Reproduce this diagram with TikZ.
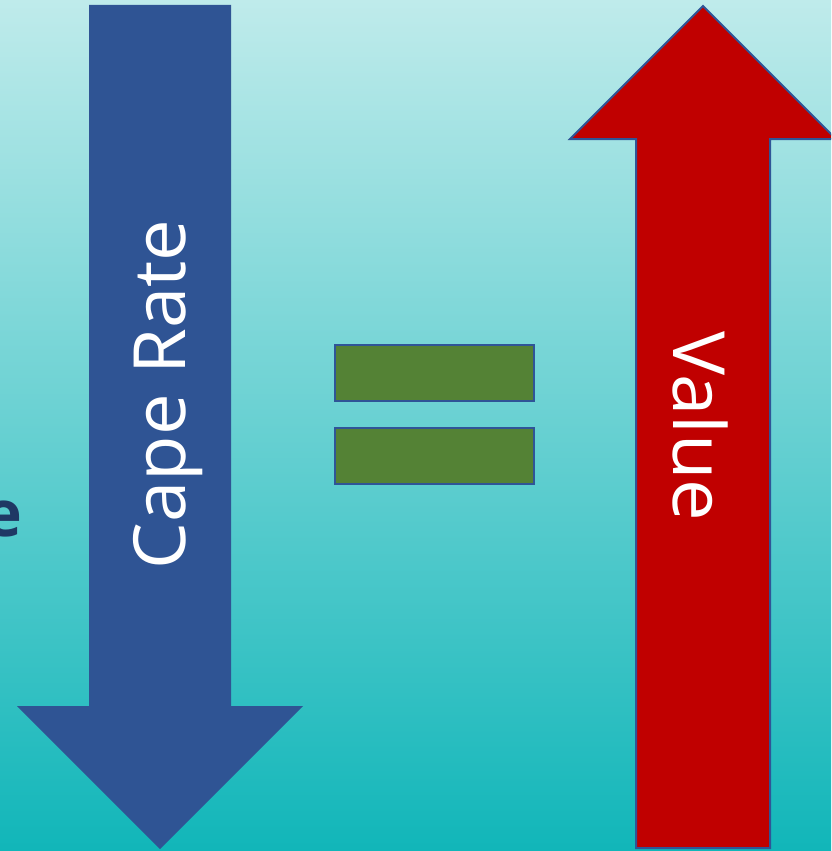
\documentclass[tikz,border=0pt]{standalone}
\usepackage{fontspec}
\setmainfont{Open Sans}
\begin{document}
\begin{tikzpicture}[x=1pt,y=1pt,
  bigtext/.style={text=white,font=\fontsize{72}{86}\selectfont,inner sep=0pt,anchor=base},
  bar/.style={fill=eqgreen,draw=edgeblue,line width=2pt,minimum width=199pt,minimum height=56pt,inner sep=0pt},
]
\definecolor{bgtop}{RGB}{191,235,235}
\definecolor{bgmid}{RGB}{100,208,208}
\definecolor{bgbot}{RGB}{17,182,185}
\definecolor{downblue}{RGB}{47,84,148}
\definecolor{edgeblue}{RGB}{47,85,151}
\definecolor{upred}{RGB}{192,0,0}
\definecolor{eqgreen}{RGB}{84,130,53}
\definecolor{navy}{RGB}{31,56,100}

\useasboundingbox (0,0) rectangle (831,-851);
\clip (0,0) rectangle (831,-851);

% background
\shade[top color=bgtop, middle color=bgmid, bottom color=bgbot] (0,0) rectangle (831,-851);

% cut-off word on the left edge
\node[anchor=base east,text=navy,inner sep=0pt,font=\bfseries\fontsize{64}{70}\selectfont] (lefttext) at (23,-536) {e};

% falling arrow
\fill[downblue] (89,-5) -- (231,-5) -- (231,-706) -- (303,-706) -- (160,-849)
  -- (17,-706) -- (89,-706) -- cycle;
\node[bigtext,rotate=90,xscale=1.03] (caperate) at (185,-394.5) {Cape Rate};

% equals sign
\node[bar] (eqtop) at (434.5,-373) {};
\node[bar] (eqbot) at (434.5,-456) {};

% rising arrow
\filldraw[fill=upred,draw=edgeblue,line width=2pt,line join=miter]
  (703,-6) -- (836,-139) -- (770,-139) -- (770,-848) -- (636,-848)
  -- (636,-139) -- (570,-139) -- cycle;
\node[bigtext,rotate=-90,xscale=1.03] (value) at (673,-426.5) {Value};
\end{tikzpicture}
\end{document}
